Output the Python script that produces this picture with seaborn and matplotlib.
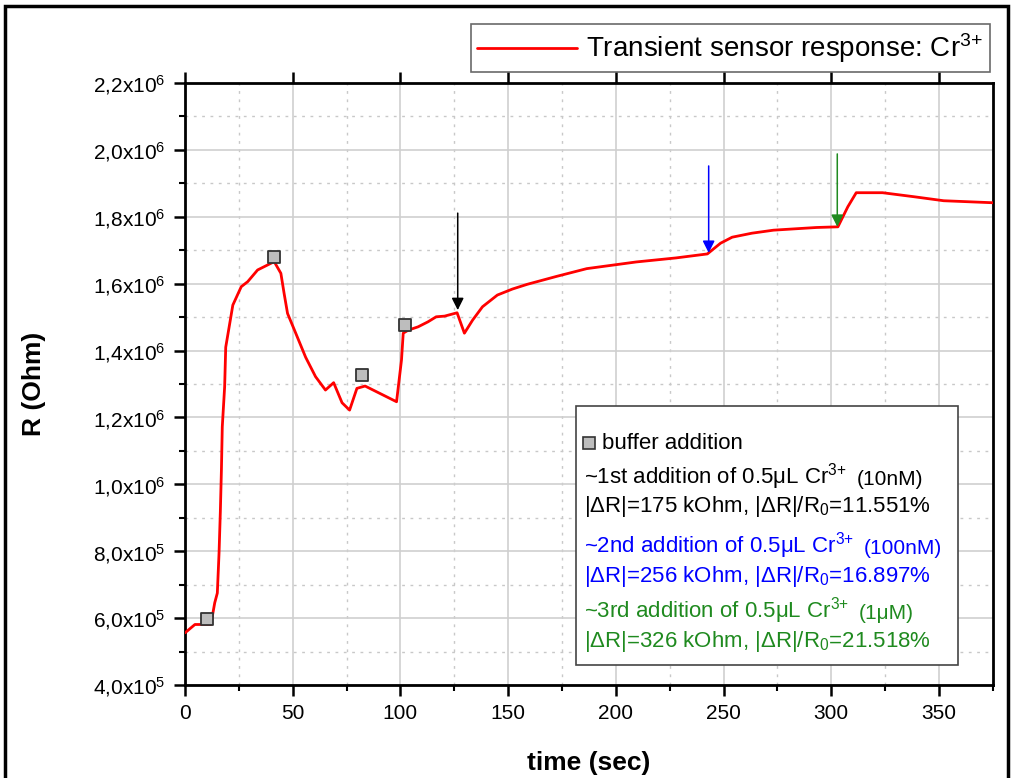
import numpy as np
import pandas as pd
import matplotlib
matplotlib.use('Agg')
import matplotlib.pyplot as plt
import matplotlib.patches as patches
from matplotlib.lines import Line2D
from matplotlib.ticker import MultipleLocator, FuncFormatter
import seaborn as sns

# transient response
time = [0, 4.6, 12, 13.8, 15, 15.8, 16.4, 16.9, 17.3, 18.4, 18.9, 20, 22.2, 26.1, 29.1,
        33.7, 39.9, 41.4, 44.5, 46, 47.6, 51.4, 56, 60.6, 65.2, 69, 72.9, 76.4, 79.8,
        83.6, 98.2, 100.5, 101.3, 103.6, 108.2, 112.8, 116.6, 120.5, 126.3, 129.7,
        133.5, 138.1, 145, 152, 158.8, 172.6, 186.5, 209.5, 227.9, 242.5, 248.6, 254,
        263.2, 273.2, 283.1, 293.1, 303.1, 307.7, 311.6, 323.8, 338.4, 352.2, 375]
resistance = [5.56e5, 5.81e5, 5.81e5, 6.46e5, 6.75e5, 7.95e5, 9.18e5, 1.043e6, 1.172e6,
              1.292e6, 1.41e6, 1.452e6, 1.536e6, 1.591e6, 1.606e6, 1.641e6, 1.661e6,
              1.666e6, 1.631e6, 1.571e6, 1.511e6, 1.452e6, 1.38e6, 1.322e6, 1.282e6,
              1.304e6, 1.244e6, 1.222e6, 1.287e6, 1.294e6, 1.247e6, 1.372e6, 1.452e6,
              1.461e6, 1.471e6, 1.486e6, 1.501e6, 1.503e6, 1.513e6, 1.452e6, 1.491e6,
              1.531e6, 1.566e6, 1.584e6, 1.598e6, 1.622e6, 1.645e6, 1.665e6, 1.677e6,
              1.689e6, 1.721e6, 1.739e6, 1.751e6, 1.76e6, 1.764e6, 1.768e6, 1.77e6,
              1.83e6, 1.872e6, 1.872e6, 1.86e6, 1.848e6, 1.842e6]

# buffer additions (grey squares)
buffer_t = [10.1, 41.4, 82, 102.2]
buffer_r = [5.97e5, 1.68e6, 1.327e6, 1.476e6]

# Cr3+ additions (arrows): x, arrow start, arrow tip, colour
arrow_t = [126.6, 243.1, 302.8]
arrow_top = [1.811e6, 1.952e6, 1.988e6]
arrow_tip = [1.521e6, 1.692e6, 1.770e6]
arrow_col = ['black', 'blue', '#1f8a1f']

info_lines = [
    ('~1st addition of 0.5\u03bcL Cr$^{3{+}}$', '(10nM)', 'black'),
    ('|\u0394R|=175 kOhm, |\u0394R|/R$_0$=11.551%', '', 'black'),
    ('~2nd addition of 0.5\u03bcL Cr$^{3{+}}$', '(100nM)', 'blue'),
    ('|\u0394R|=256 kOhm, |\u0394R|/R$_0$=16.897%', '', 'blue'),
    ('~3rd addition of 0.5\u03bcL Cr$^{3{+}}$', '(1\u03bcM)', '#1f8a1f'),
    ('|\u0394R|=326 kOhm, |\u0394R|/R$_0$=21.518%', '', '#1f8a1f'),
]
info_y = [0.346, 0.297, 0.231, 0.181, 0.123, 0.073]

sns.set_style('white')
plt.rcParams['font.family'] = ['Liberation Sans', 'DejaVu Sans']
plt.rcParams['mathtext.fontset'] = 'custom'
plt.rcParams['mathtext.rm'] = 'Liberation Sans'
plt.rcParams['mathtext.it'] = 'Liberation Sans:italic'
plt.rcParams['mathtext.bf'] = 'Liberation Sans:bold'
plt.rcParams['text.color'] = 'black'
plt.rcParams['axes.labelcolor'] = 'black'
plt.rcParams['xtick.color'] = 'black'
plt.rcParams['ytick.color'] = 'black'

df = pd.DataFrame({'time': time, 'R': resistance})
buf = pd.DataFrame({'time': buffer_t, 'R': buffer_r})

fig = plt.figure(figsize=(10.11, 7.78), dpi=100)
ax = fig.add_axes([0.183, 0.1195, 0.799, 0.7738])

sns.lineplot(data=df, x='time', y='R', color='red', lw=2, estimator=None, ax=ax, zorder=3)
sns.scatterplot(data=buf, x='time', y='R', marker='s', s=80, color='#bdbdbd',
                edgecolor='#333333', linewidth=1.3, ax=ax, zorder=4)

for t, y0, y1, c in zip(arrow_t, arrow_top, arrow_tip, arrow_col):
    ax.annotate('', xy=(t, y1), xytext=(t, y0),
                arrowprops=dict(arrowstyle='-|>', color=c, lw=1.1, mutation_scale=18,
                                shrinkA=0, shrinkB=0), zorder=5)

ax.set_xlim(0, 375)
ax.set_ylim(4e5, 2.2e6)
ax.xaxis.set_major_locator(MultipleLocator(50))
ax.xaxis.set_minor_locator(MultipleLocator(25))
ax.yaxis.set_major_locator(MultipleLocator(2e5))
ax.yaxis.set_minor_locator(MultipleLocator(1e5))

def fmt(v, pos):
    if v >= 1e6 - 1:
        return '%sx10$^{6}$' % ('%.1f' % (v / 1e6)).replace('.', ',')
    return '%sx10$^{5}$' % ('%.1f' % (v / 1e5)).replace('.', ',')

ax.yaxis.set_major_formatter(FuncFormatter(fmt))

ax.grid(which='major', color='#cfcfcf', lw=1.2, ls='-')
ax.grid(which='minor', color='#c8c8c8', lw=1, ls=(0, (2, 4)))
ax.set_axisbelow(True)

for s in ax.spines.values():
    s.set_linewidth(2)
    s.set_color('black')
ax.tick_params(which='major', direction='out', length=8, width=1.8,
               bottom=True, top=True, left=True, right=False, pad=6)
ax.tick_params(axis='y', labelsize=15)
ax.tick_params(axis='x', labelsize=15)
ax.tick_params(which='minor', direction='out', length=4, width=1.5,
               bottom=True, top=False, left=True, right=False)

ax.set_xlabel('time (sec)', fontsize=19, fontweight='bold', labelpad=20)
ax.set_ylabel('R (Ohm)', fontsize=19, fontweight='bold', labelpad=34)

leg = ax.legend(handles=[Line2D([], [], color='red', lw=2)],
                labels=['Transient sensor response: Cr$^{3{+}}$'],
                loc='lower right', bbox_to_anchor=(0.996, 1.018), borderaxespad=0,
                fontsize=20, frameon=True, fancybox=False, edgecolor='#444444',
                borderpad=0.25, handlelength=3.6, handletextpad=0.3)
leg.get_frame().set_linewidth(1.2)

# info box
ax.add_patch(patches.Rectangle((0.484, 0.033), 0.473, 0.43, transform=ax.transAxes,
                               facecolor='white', edgecolor='#444444', lw=1.2, zorder=6))
ax.plot([0.500], [0.402], transform=ax.transAxes, marker='s', ms=9, color='#bdbdbd',
        mec='#333333', mew=1.2, zorder=7)
ax.text(0.516, 0.402, 'buffer addition', transform=ax.transAxes, fontsize=16,
        va='center', ha='left', zorder=7)
for (txt, small, c), y in zip(info_lines, info_y):
    t = ax.text(0.494, y, txt, transform=ax.transAxes, fontsize=16, color=c,
                va='center', ha='left', zorder=7)
    if small:
        ax.annotate(small, xy=(1, 0.5), xycoords=t, xytext=(7, -2),
                    textcoords='offset points', fontsize=15, color=c,
                    va='center', ha='left', zorder=7)

# outer frame of the picture
fig.patches.append(patches.Rectangle((0.005, -0.01), 0.992, 1.002, transform=fig.transFigure,
                                     fill=False, edgecolor='black', lw=2.5))

fig.savefig('out.png', dpi=100)
